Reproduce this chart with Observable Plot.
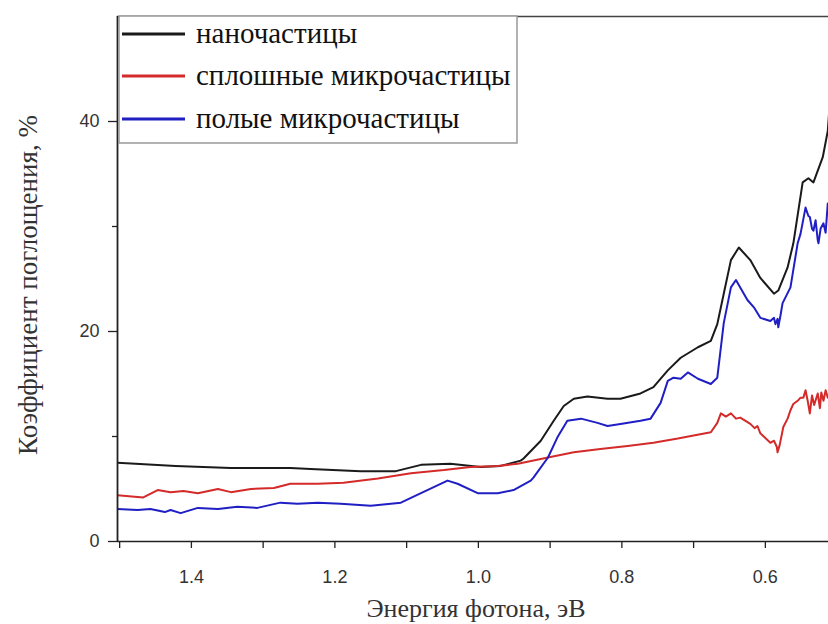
<!DOCTYPE html>
<html>
<head>
<meta charset="utf-8">
<script src="https://cdn.jsdelivr.net/npm/d3@7"></script>
<script src="https://cdn.jsdelivr.net/npm/@observablehq/plot@0.6"></script>
<style>
  html, body { margin: 0; padding: 0; background: #fff; }
</style>
</head>
<body>
<div id="wrap"></div>
<script>
// Series names
const seriesNames = ["наночастицы", "сплошные микрочастицы", "полые микрочастицы"];
const seriesColors = ["#1a1a1a", "#d42a2a", "#1f1fc4"];

// наночастицы
const nanoE = [1.503, 1.422, 1.345, 1.262, 1.234, 1.164, 1.115, 1.080, 1.039, 0.997, 0.969, 0.941, 0.937, 0.913, 0.895, 0.881, 0.867, 0.848, 0.820, 0.802, 0.774, 0.756, 0.736, 0.718, 0.694, 0.676, 0.667, 0.658, 0.648, 0.637, 0.621, 0.607, 0.588, 0.582, 0.569, 0.561, 0.548, 0.540, 0.533, 0.520, 0.513, 0.511];
const nanoV = [7.5, 7.2, 7.0, 7.0, 6.9, 6.7, 6.7, 7.3, 7.4, 7.1, 7.2, 7.7, 7.9, 9.6, 11.5, 12.9, 13.6, 13.8, 13.6, 13.6, 14.1, 14.7, 16.3, 17.5, 18.5, 19.1, 20.7, 23.6, 26.8, 28.0, 26.8, 25.1, 23.6, 23.9, 26.1, 28.4, 34.2, 34.6, 34.2, 36.6, 39.1, 41.0];

// сплошные микрочастицы
const solidE = [1.503, 1.467, 1.447, 1.429, 1.411, 1.391, 1.363, 1.345, 1.317, 1.285, 1.262, 1.224, 1.188, 1.140, 1.094, 1.048, 1.011, 0.973, 0.945, 0.903, 0.867, 0.830, 0.792, 0.756, 0.722, 0.700, 0.676, 0.667, 0.662, 0.655, 0.648, 0.641, 0.635, 0.621, 0.615, 0.611, 0.607, 0.593, 0.588, 0.584, 0.583, 0.580, 0.575, 0.569, 0.565, 0.561, 0.555, 0.551, 0.547, 0.544, 0.541, 0.538, 0.535, 0.532, 0.527, 0.524, 0.522, 0.519, 0.516, 0.513];
const solidV = [4.4, 4.2, 4.9, 4.7, 4.8, 4.6, 5.0, 4.7, 5.0, 5.1, 5.5, 5.5, 5.6, 6.0, 6.5, 6.8, 7.1, 7.2, 7.4, 8.0, 8.5, 8.8, 9.1, 9.4, 9.8, 10.1, 10.4, 11.3, 12.2, 11.9, 12.2, 11.7, 11.8, 11.2, 10.8, 11.0, 10.3, 9.4, 9.6, 9.0, 8.5, 9.2, 10.9, 11.7, 12.5, 13.1, 13.4, 13.7, 13.7, 14.4, 13.4, 12.2, 13.9, 13.0, 14.1, 12.7, 14.2, 13.4, 14.4, 13.7];

// полые микрочастицы
const hollowE = [1.503, 1.475, 1.457, 1.437, 1.429, 1.415, 1.391, 1.363, 1.336, 1.308, 1.276, 1.252, 1.224, 1.192, 1.150, 1.108, 1.080, 1.043, 1.029, 1.001, 0.973, 0.951, 0.927, 0.923, 0.903, 0.890, 0.876, 0.857, 0.834, 0.820, 0.802, 0.774, 0.760, 0.746, 0.736, 0.728, 0.718, 0.708, 0.694, 0.676, 0.667, 0.658, 0.648, 0.641, 0.625, 0.616, 0.607, 0.593, 0.588, 0.586, 0.583, 0.582, 0.579, 0.576, 0.565, 0.555, 0.551, 0.544, 0.540, 0.538, 0.535, 0.533, 0.530, 0.527, 0.526, 0.523, 0.519, 0.516, 0.513];
const hollowV = [3.1, 3.0, 3.1, 2.8, 3.0, 2.7, 3.2, 3.1, 3.3, 3.2, 3.7, 3.6, 3.7, 3.6, 3.4, 3.7, 4.6, 5.8, 5.5, 4.6, 4.6, 4.9, 5.8, 6.1, 8.0, 9.9, 11.5, 11.7, 11.3, 11.0, 11.2, 11.5, 11.7, 13.2, 15.3, 15.6, 15.5, 16.1, 15.5, 15.0, 15.6, 20.8, 24.2, 24.9, 23.0, 22.3, 21.3, 21.0, 21.3, 20.7, 21.2, 20.4, 21.5, 22.7, 24.2, 28.4, 29.3, 31.8, 31.0, 30.9, 29.8, 29.6, 30.6, 28.7, 28.4, 29.8, 30.3, 29.4, 32.2];

// Axis ticks
const xMajor = [1.4, 1.2, 1.0, 0.8, 0.6];
const xMinor = [1.5, 1.3, 1.1, 0.9, 0.7];
const yMajor = [0, 20, 40];
const yMinor = [10, 30];

const xLabel = "Энергия фотона, эВ";
const yLabel = "Коэффициент поглощения, %";

const rows = [];
[[nanoE, nanoV], [solidE, solidV], [hollowE, hollowV]].forEach(([E, V], i) => {
  E.forEach((e, j) => rows.push({series: seriesNames[i], e, v: V[j]}));
});

const plot = Plot.plot({
  width: 828,
  height: 624,
  marginLeft: 117,
  marginRight: 0,
  marginTop: 16,
  marginBottom: 83,
  style: {fontFamily: "'Liberation Sans', Arial, sans-serif", background: "#fff"},
  x: {domain: [1.503, 0.512]},
  y: {domain: [0, 50]},
  color: {domain: seriesNames, range: seriesColors},
  marks: [
    Plot.line(rows, {x: "e", y: "v", z: "series", stroke: "series", strokeWidth: 2, clip: true}),
    Plot.axisX({ticks: xMajor, tickSize: 7, tickPadding: 22, tickFormat: d3.format(".1f"), fontSize: 18, color: "#333", stroke: "#222", strokeWidth: 1.3, label: null}),
    Plot.axisX({ticks: xMinor, tickSize: 7, tickFormat: () => "", stroke: "#222", strokeWidth: 1.3, label: null}),
    Plot.axisY({ticks: yMajor, tickSize: 9, tickPadding: 9, fontSize: 18, color: "#333", stroke: "#222", strokeWidth: 1.3, label: null}),
    Plot.axisY({ticks: yMinor, tickSize: 5, tickFormat: () => "", stroke: "#222", strokeWidth: 1.3, label: null}),
    Plot.ruleY([0], {stroke: "#222", strokeWidth: 1.6}),
    Plot.ruleY([50], {stroke: "#444", strokeWidth: 1.6}),
    Plot.ruleX([1.503], {stroke: "#222", strokeWidth: 1.8})
  ]
});

const serif = "'Liberation Serif', 'Times New Roman', 'DejaVu Serif', serif";
const svg = d3.select(plot);
svg.append("text")
  .attr("x", 476).attr("y", 617)
  .attr("text-anchor", "middle")
  .style("font-family", serif)
  .style("font-size", "26px").attr("fill", "#333")
  .text(xLabel);
svg.append("text")
  .attr("transform", "translate(37,285) rotate(-90)")
  .attr("text-anchor", "middle")
  .style("font-family", serif)
  .style("font-size", "27px").attr("fill", "#333")
  .text(yLabel);

// Legend box (drawn over the plot area, top-left)
const lg = svg.append("g").attr("text-anchor", "start");
lg.append("rect")
  .attr("x", 119).attr("y", 16).attr("width", 398).attr("height", 127)
  .attr("fill", "#fff").attr("stroke", "#999").attr("stroke-width", 1.5);
const legY = [34, 76, 119];
seriesNames.forEach((name, i) => {
  lg.append("line")
    .attr("x1", 122).attr("x2", 185).attr("y1", legY[i]).attr("y2", legY[i])
    .attr("stroke", seriesColors[i]).attr("stroke-width", 3);
  lg.append("text")
    .attr("x", 196).attr("y", legY[i] + 9)
    .attr("text-anchor", "start")
    .style("font-family", serif).style("font-size", "29px").attr("fill", "#111")
    .text(name);
});

document.getElementById("wrap").appendChild(plot);
</script>
</body>
</html>
